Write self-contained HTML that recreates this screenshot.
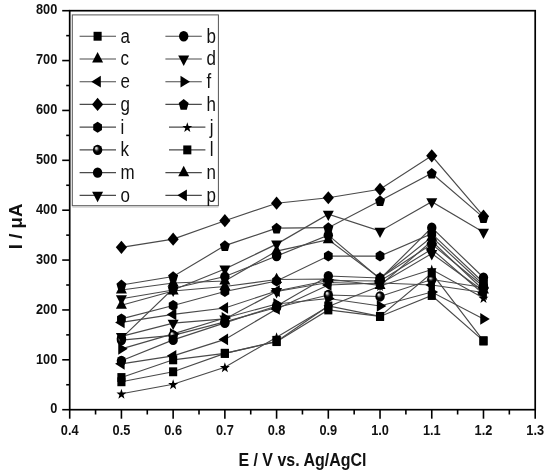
<!DOCTYPE html>
<html><head><meta charset="utf-8"><title>chart</title>
<style>html,body{margin:0;padding:0;background:#fff;}svg{display:block;will-change:transform;}</style></head>
<body>
<svg width="550" height="475" viewBox="0 0 550 475">
<defs><radialGradient id="sp" cx="0.5" cy="0.5" r="0.5" fx="0.33" fy="0.3"><stop offset="0" stop-color="#f0f0f0"/><stop offset="0.18" stop-color="#c4c4c4"/><stop offset="0.42" stop-color="#2a2a2a"/><stop offset="0.6" stop-color="#000"/><stop offset="1" stop-color="#000"/></radialGradient></defs>
<rect width="550" height="475" fill="#fff"/>
<g fill="none" stroke="#4a4a4a" stroke-width="1.15">
<polyline points="121.42,377.53 173.14,359.82 224.87,353.34 276.59,341.62 328.31,309.95 380.03,316.43 431.76,295.49 483.48,340.87"/>
<polyline points="121.42,338.38 173.14,288.50 224.87,276.53 276.59,256.08 328.31,235.14 380.03,279.03 431.76,227.66 483.48,277.53"/>
<polyline points="121.42,290.00 173.14,283.02 224.87,281.02 276.59,251.10 328.31,239.63 380.03,278.28 431.76,237.13 483.48,285.01"/>
<polyline points="121.42,298.73 173.14,290.00 224.87,269.05 276.59,244.12 328.31,214.19 380.03,231.15 431.76,201.72 483.48,232.14"/>
<polyline points="121.42,322.42 173.14,314.44 224.87,307.95 276.59,291.00 328.31,280.52 380.03,281.02 431.76,249.10 483.48,293.99"/>
<polyline points="121.42,348.85 173.14,333.89 224.87,317.93 276.59,303.96 328.31,298.48 380.03,305.96 431.76,292.00 483.48,318.93"/>
<polyline points="121.42,247.36 173.14,239.13 224.87,220.67 276.59,203.22 328.31,197.73 380.03,189.25 431.76,155.84 483.48,216.19"/>
<polyline points="121.42,285.01 173.14,276.53 224.87,245.61 276.59,228.15 328.31,227.66 380.03,200.72 431.76,173.29 483.48,217.68"/>
<polyline points="121.42,318.93 173.14,305.46 224.87,291.50 276.59,281.02 328.31,256.08 380.03,256.08 431.76,233.64 483.48,282.52"/>
<polyline points="121.42,393.74 173.14,384.26 224.87,367.31 276.59,337.13 328.31,306.46 380.03,286.01 431.76,269.55 483.48,297.98"/>
<polyline points="121.42,340.12 173.14,335.39 224.87,321.92 276.59,307.46 328.31,294.99 380.03,296.48 431.76,279.53 483.48,287.51"/>
<polyline points="121.42,381.77 173.14,371.79 224.87,353.34 276.59,341.37 328.31,305.96 380.03,316.43 431.76,273.04 483.48,340.87"/>
<polyline points="121.42,360.82 173.14,339.88 224.87,322.92 276.59,305.96 328.31,276.03 380.03,278.03 431.76,244.12 483.48,286.51"/>
<polyline points="121.42,305.21 173.14,291.00 224.87,286.51 276.59,279.53 328.31,279.03 380.03,285.51 431.76,241.12 483.48,290.00"/>
<polyline points="121.42,336.38 173.14,323.17 224.87,318.93 276.59,291.50 328.31,282.52 380.03,284.01 431.76,253.59 483.48,291.00"/>
<polyline points="121.42,363.81 173.14,355.83 224.87,339.38 276.59,308.95 328.31,285.01 380.03,283.02 431.76,285.01 483.48,292.49"/>
</g>
<g fill="#000">
<rect x="117.37" y="373.08" width="8.10" height="8.90"/>
<rect x="169.09" y="355.38" width="8.10" height="8.90"/>
<rect x="220.82" y="348.89" width="8.10" height="8.90"/>
<rect x="272.54" y="337.17" width="8.10" height="8.90"/>
<rect x="324.26" y="305.50" width="8.10" height="8.90"/>
<rect x="375.98" y="311.98" width="8.10" height="8.90"/>
<rect x="427.71" y="291.04" width="8.10" height="8.90"/>
<rect x="479.43" y="336.42" width="8.10" height="8.90"/>
<ellipse cx="121.42" cy="338.38" rx="4.7" ry="5.15"/>
<ellipse cx="173.14" cy="288.50" rx="4.7" ry="5.15"/>
<ellipse cx="224.87" cy="276.53" rx="4.7" ry="5.15"/>
<ellipse cx="276.59" cy="256.08" rx="4.7" ry="5.15"/>
<ellipse cx="328.31" cy="235.14" rx="4.7" ry="5.15"/>
<ellipse cx="380.03" cy="279.03" rx="4.7" ry="5.15"/>
<ellipse cx="431.76" cy="227.66" rx="4.7" ry="5.15"/>
<ellipse cx="483.48" cy="277.53" rx="4.7" ry="5.15"/>
<polygon points="115.92,293.50 126.92,293.50 121.42,283.10"/>
<polygon points="167.64,286.52 178.64,286.52 173.14,276.12"/>
<polygon points="219.37,284.52 230.37,284.52 224.87,274.12"/>
<polygon points="271.09,254.60 282.09,254.60 276.59,244.20"/>
<polygon points="322.81,243.13 333.81,243.13 328.31,232.73"/>
<polygon points="374.53,281.78 385.53,281.78 380.03,271.38"/>
<polygon points="426.26,240.63 437.26,240.63 431.76,230.23"/>
<polygon points="477.98,288.51 488.98,288.51 483.48,278.11"/>
<polygon points="115.92,295.23 126.92,295.23 121.42,305.63"/>
<polygon points="167.64,286.50 178.64,286.50 173.14,296.90"/>
<polygon points="219.37,265.55 230.37,265.55 224.87,275.95"/>
<polygon points="271.09,240.62 282.09,240.62 276.59,251.02"/>
<polygon points="322.81,210.69 333.81,210.69 328.31,221.09"/>
<polygon points="374.53,227.65 385.53,227.65 380.03,238.05"/>
<polygon points="426.26,198.22 437.26,198.22 431.76,208.62"/>
<polygon points="477.98,228.64 488.98,228.64 483.48,239.04"/>
<polygon points="124.62,316.52 124.62,328.32 115.12,322.42"/>
<polygon points="176.34,308.54 176.34,320.34 166.84,314.44"/>
<polygon points="228.07,302.06 228.07,313.85 218.57,307.95"/>
<polygon points="279.79,285.10 279.79,296.90 270.29,291.00"/>
<polygon points="331.51,274.62 331.51,286.42 322.01,280.52"/>
<polygon points="383.23,275.12 383.23,286.92 373.73,281.02"/>
<polygon points="434.96,243.20 434.96,255.00 425.46,249.10"/>
<polygon points="486.68,288.09 486.68,299.89 477.18,293.99"/>
<polygon points="118.22,342.95 118.22,354.75 127.72,348.85"/>
<polygon points="169.94,327.99 169.94,339.79 179.44,333.89"/>
<polygon points="221.67,312.03 221.67,323.83 231.17,317.93"/>
<polygon points="273.39,298.06 273.39,309.86 282.89,303.96"/>
<polygon points="325.11,292.58 325.11,304.38 334.61,298.48"/>
<polygon points="376.83,300.06 376.83,311.86 386.33,305.96"/>
<polygon points="428.56,286.10 428.56,297.89 438.06,292.00"/>
<polygon points="480.28,313.03 480.28,324.83 489.78,318.93"/>
<polygon points="115.82,247.36 121.42,240.76 127.02,247.36 121.42,253.96"/>
<polygon points="167.54,239.13 173.14,232.53 178.74,239.13 173.14,245.73"/>
<polygon points="219.27,220.67 224.87,214.07 230.47,220.67 224.87,227.27"/>
<polygon points="270.99,203.22 276.59,196.62 282.19,203.22 276.59,209.82"/>
<polygon points="322.71,197.73 328.31,191.13 333.91,197.73 328.31,204.33"/>
<polygon points="374.43,189.25 380.03,182.65 385.63,189.25 380.03,195.85"/>
<polygon points="426.16,155.84 431.76,149.24 437.36,155.84 431.76,162.44"/>
<polygon points="477.88,216.19 483.48,209.59 489.08,216.19 483.48,222.78"/>
<polygon points="121.42,279.61 126.42,283.69 124.51,290.29 118.34,290.29 116.43,283.69"/>
<polygon points="173.14,271.13 178.14,275.21 176.23,281.81 170.06,281.81 168.15,275.21"/>
<polygon points="224.87,240.21 229.86,244.29 227.95,250.88 221.78,250.88 219.87,244.29"/>
<polygon points="276.59,222.75 281.58,226.83 279.68,233.43 273.50,233.43 271.59,226.83"/>
<polygon points="328.31,222.26 333.31,226.33 331.40,232.93 325.22,232.93 323.32,226.33"/>
<polygon points="380.03,195.32 385.03,199.40 383.12,206.00 376.95,206.00 375.04,199.40"/>
<polygon points="431.76,167.89 436.75,171.97 434.84,178.57 428.67,178.57 426.76,171.97"/>
<polygon points="483.48,212.28 488.47,216.36 486.56,222.95 480.39,222.95 478.48,216.36"/>
<polygon points="121.42,313.43 125.80,316.18 125.80,321.68 121.42,324.43 117.04,321.68 117.04,316.18"/>
<polygon points="173.14,299.96 177.53,302.71 177.53,308.21 173.14,310.96 168.76,308.21 168.76,302.71"/>
<polygon points="224.87,286.00 229.25,288.75 229.25,294.25 224.87,297.00 220.48,294.25 220.48,288.75"/>
<polygon points="276.59,275.52 280.97,278.27 280.97,283.77 276.59,286.52 272.21,283.77 272.21,278.27"/>
<polygon points="328.31,250.58 332.69,253.33 332.69,258.83 328.31,261.58 323.93,258.83 323.93,253.33"/>
<polygon points="380.03,250.58 384.42,253.33 384.42,258.83 380.03,261.58 375.65,258.83 375.65,253.33"/>
<polygon points="431.76,228.14 436.14,230.89 436.14,236.39 431.76,239.14 427.37,236.39 427.37,230.89"/>
<polygon points="483.48,277.02 487.86,279.77 487.86,285.27 483.48,288.02 479.10,285.27 479.10,279.77"/>
<polygon points="121.42,388.74 122.65,392.46 126.39,392.54 123.41,394.92 124.49,398.69 121.42,396.44 118.35,398.69 119.43,394.92 116.45,392.54 120.19,392.46"/>
<polygon points="173.14,379.26 174.37,382.98 178.11,383.06 175.13,385.44 176.22,389.21 173.14,386.96 170.07,389.21 171.16,385.44 168.18,383.06 171.92,382.98"/>
<polygon points="224.87,362.31 226.10,366.03 229.84,366.11 226.85,368.49 227.94,372.26 224.87,370.01 221.80,372.26 222.88,368.49 219.90,366.11 223.64,366.03"/>
<polygon points="276.59,332.13 277.82,335.85 281.56,335.93 278.58,338.31 279.66,342.08 276.59,339.83 273.52,342.08 274.60,338.31 271.62,335.93 275.36,335.85"/>
<polygon points="328.31,301.46 329.54,305.18 333.28,305.26 330.30,307.64 331.38,311.41 328.31,309.16 325.24,311.41 326.32,307.64 323.34,305.26 327.08,305.18"/>
<polygon points="380.03,281.01 381.26,284.73 385.00,284.81 382.02,287.19 383.10,290.96 380.03,288.71 376.96,290.96 378.05,287.19 375.06,284.81 378.80,284.73"/>
<polygon points="431.76,264.55 432.98,268.27 436.72,268.35 433.74,270.73 434.83,274.50 431.76,272.25 428.68,274.50 429.77,270.73 426.79,268.35 430.53,268.27"/>
<polygon points="483.48,292.98 484.71,296.70 488.45,296.78 485.47,299.16 486.55,302.93 483.48,300.68 480.41,302.93 481.49,299.16 478.51,296.78 482.25,296.70"/>
<ellipse cx="121.42" cy="340.12" rx="4.7" ry="5.15" fill="url(#sp)"/>
<ellipse cx="173.14" cy="335.39" rx="4.7" ry="5.15" fill="url(#sp)"/>
<ellipse cx="224.87" cy="321.92" rx="4.7" ry="5.15" fill="url(#sp)"/>
<ellipse cx="276.59" cy="307.46" rx="4.7" ry="5.15" fill="url(#sp)"/>
<ellipse cx="328.31" cy="294.99" rx="4.7" ry="5.15" fill="url(#sp)"/>
<ellipse cx="380.03" cy="296.48" rx="4.7" ry="5.15" fill="url(#sp)"/>
<ellipse cx="431.76" cy="279.53" rx="4.7" ry="5.15" fill="url(#sp)"/>
<ellipse cx="483.48" cy="287.51" rx="4.7" ry="5.15" fill="url(#sp)"/>
<rect x="117.37" y="377.32" width="8.10" height="8.90"/>
<rect x="169.09" y="367.34" width="8.10" height="8.90"/>
<rect x="220.82" y="348.89" width="8.10" height="8.90"/>
<rect x="272.54" y="336.92" width="8.10" height="8.90"/>
<rect x="324.26" y="301.51" width="8.10" height="8.90"/>
<rect x="375.98" y="311.98" width="8.10" height="8.90"/>
<rect x="427.71" y="268.59" width="8.10" height="8.90"/>
<rect x="479.43" y="336.42" width="8.10" height="8.90"/>
<ellipse cx="121.42" cy="360.82" rx="4.7" ry="5.15"/>
<ellipse cx="173.14" cy="339.88" rx="4.7" ry="5.15"/>
<ellipse cx="224.87" cy="322.92" rx="4.7" ry="5.15"/>
<ellipse cx="276.59" cy="305.96" rx="4.7" ry="5.15"/>
<ellipse cx="328.31" cy="276.03" rx="4.7" ry="5.15"/>
<ellipse cx="380.03" cy="278.03" rx="4.7" ry="5.15"/>
<ellipse cx="431.76" cy="244.12" rx="4.7" ry="5.15"/>
<ellipse cx="483.48" cy="286.51" rx="4.7" ry="5.15"/>
<polygon points="115.92,308.71 126.92,308.71 121.42,298.31"/>
<polygon points="167.64,294.50 178.64,294.50 173.14,284.10"/>
<polygon points="219.37,290.01 230.37,290.01 224.87,279.61"/>
<polygon points="271.09,283.03 282.09,283.03 276.59,272.63"/>
<polygon points="322.81,282.53 333.81,282.53 328.31,272.13"/>
<polygon points="374.53,289.01 385.53,289.01 380.03,278.61"/>
<polygon points="426.26,244.62 437.26,244.62 431.76,234.22"/>
<polygon points="477.98,293.50 488.98,293.50 483.48,283.10"/>
<polygon points="115.92,332.88 126.92,332.88 121.42,343.28"/>
<polygon points="167.64,319.67 178.64,319.67 173.14,330.07"/>
<polygon points="219.37,315.43 230.37,315.43 224.87,325.83"/>
<polygon points="271.09,288.00 282.09,288.00 276.59,298.40"/>
<polygon points="322.81,279.02 333.81,279.02 328.31,289.42"/>
<polygon points="374.53,280.51 385.53,280.51 380.03,290.91"/>
<polygon points="426.26,250.09 437.26,250.09 431.76,260.49"/>
<polygon points="477.98,287.50 488.98,287.50 483.48,297.90"/>
<polygon points="124.62,357.92 124.62,369.71 115.12,363.81"/>
<polygon points="176.34,349.94 176.34,361.73 166.84,355.83"/>
<polygon points="228.07,333.48 228.07,345.28 218.57,339.38"/>
<polygon points="279.79,303.05 279.79,314.85 270.29,308.95"/>
<polygon points="331.51,279.11 331.51,290.91 322.01,285.01"/>
<polygon points="383.23,277.12 383.23,288.92 373.73,283.02"/>
<polygon points="434.96,279.11 434.96,290.91 425.46,285.01"/>
<polygon points="486.68,286.59 486.68,298.39 477.18,292.49"/>
</g>
<rect x="69.70" y="10.70" width="465.50" height="399.00" fill="none" stroke="#000" stroke-width="1.7"/>
<g stroke="#000" stroke-width="1.6">
<line x1="69.70" y1="409.70" x2="69.70" y2="418.70"/>
<line x1="95.56" y1="409.70" x2="95.56" y2="414.50"/>
<line x1="121.42" y1="409.70" x2="121.42" y2="418.70"/>
<line x1="147.28" y1="409.70" x2="147.28" y2="414.50"/>
<line x1="173.14" y1="409.70" x2="173.14" y2="418.70"/>
<line x1="199.01" y1="409.70" x2="199.01" y2="414.50"/>
<line x1="224.87" y1="409.70" x2="224.87" y2="418.70"/>
<line x1="250.73" y1="409.70" x2="250.73" y2="414.50"/>
<line x1="276.59" y1="409.70" x2="276.59" y2="418.70"/>
<line x1="302.45" y1="409.70" x2="302.45" y2="414.50"/>
<line x1="328.31" y1="409.70" x2="328.31" y2="418.70"/>
<line x1="354.17" y1="409.70" x2="354.17" y2="414.50"/>
<line x1="380.03" y1="409.70" x2="380.03" y2="418.70"/>
<line x1="405.89" y1="409.70" x2="405.89" y2="414.50"/>
<line x1="431.76" y1="409.70" x2="431.76" y2="418.70"/>
<line x1="457.62" y1="409.70" x2="457.62" y2="414.50"/>
<line x1="483.48" y1="409.70" x2="483.48" y2="418.70"/>
<line x1="509.34" y1="409.70" x2="509.34" y2="414.50"/>
<line x1="535.20" y1="409.70" x2="535.20" y2="418.70"/>
<line x1="69.70" y1="409.70" x2="62.20" y2="409.70"/>
<line x1="69.70" y1="384.76" x2="66.20" y2="384.76"/>
<line x1="69.70" y1="359.82" x2="62.20" y2="359.82"/>
<line x1="69.70" y1="334.89" x2="66.20" y2="334.89"/>
<line x1="69.70" y1="309.95" x2="62.20" y2="309.95"/>
<line x1="69.70" y1="285.01" x2="66.20" y2="285.01"/>
<line x1="69.70" y1="260.07" x2="62.20" y2="260.07"/>
<line x1="69.70" y1="235.14" x2="66.20" y2="235.14"/>
<line x1="69.70" y1="210.20" x2="62.20" y2="210.20"/>
<line x1="69.70" y1="185.26" x2="66.20" y2="185.26"/>
<line x1="69.70" y1="160.32" x2="62.20" y2="160.32"/>
<line x1="69.70" y1="135.39" x2="66.20" y2="135.39"/>
<line x1="69.70" y1="110.45" x2="62.20" y2="110.45"/>
<line x1="69.70" y1="85.51" x2="66.20" y2="85.51"/>
<line x1="69.70" y1="60.57" x2="62.20" y2="60.57"/>
<line x1="69.70" y1="35.64" x2="66.20" y2="35.64"/>
<line x1="69.70" y1="10.70" x2="62.20" y2="10.70"/>
</g>
<g font-family="Liberation Sans, sans-serif" font-weight="bold" font-size="14.2" fill="#111">
<text transform="translate(69.70,434.6) scale(0.9,1)" text-anchor="middle">0.4</text>
<text transform="translate(121.42,434.6) scale(0.9,1)" text-anchor="middle">0.5</text>
<text transform="translate(173.14,434.6) scale(0.9,1)" text-anchor="middle">0.6</text>
<text transform="translate(224.87,434.6) scale(0.9,1)" text-anchor="middle">0.7</text>
<text transform="translate(276.59,434.6) scale(0.9,1)" text-anchor="middle">0.8</text>
<text transform="translate(328.31,434.6) scale(0.9,1)" text-anchor="middle">0.9</text>
<text transform="translate(380.03,434.6) scale(0.9,1)" text-anchor="middle">1.0</text>
<text transform="translate(431.76,434.6) scale(0.9,1)" text-anchor="middle">1.1</text>
<text transform="translate(483.48,434.6) scale(0.9,1)" text-anchor="middle">1.2</text>
<text transform="translate(535.20,434.6) scale(0.9,1)" text-anchor="middle">1.3</text>
<text transform="translate(57.3,413.40) scale(0.9,1)" text-anchor="end">0</text>
<text transform="translate(57.3,363.52) scale(0.9,1)" text-anchor="end">100</text>
<text transform="translate(57.3,313.65) scale(0.9,1)" text-anchor="end">200</text>
<text transform="translate(57.3,263.77) scale(0.9,1)" text-anchor="end">300</text>
<text transform="translate(57.3,213.90) scale(0.9,1)" text-anchor="end">400</text>
<text transform="translate(57.3,164.02) scale(0.9,1)" text-anchor="end">500</text>
<text transform="translate(57.3,114.15) scale(0.9,1)" text-anchor="end">600</text>
<text transform="translate(57.3,64.27) scale(0.9,1)" text-anchor="end">700</text>
<text transform="translate(57.3,14.40) scale(0.9,1)" text-anchor="end">800</text>
</g>
<text x="302.4" y="465.8" text-anchor="middle" font-family="Liberation Sans, sans-serif" font-weight="bold" font-size="18.4" fill="#111" textLength="128" lengthAdjust="spacingAndGlyphs">E / V vs. Ag/AgCl</text>
<text transform="translate(22.2,226.4) rotate(-90)" text-anchor="middle" font-family="Liberation Sans, sans-serif" font-weight="bold" font-size="17.6" fill="#111" textLength="45.6" lengthAdjust="spacingAndGlyphs">I / μA</text>
<rect x="72.3" y="14.9" width="146.1" height="190.8" fill="#fff" stroke="#555" stroke-width="1"/>
<line x1="72.3" y1="207" x2="218.4" y2="207" stroke="#bbb" stroke-width="1"/>
<line x1="79.60" y1="36.25" x2="116.00" y2="36.25" stroke="#4a4a4a" stroke-width="1.15"/>
<g fill="#000"><rect x="93.55" y="31.80" width="8.10" height="8.90"/></g>
<text transform="translate(120.60,42.75) scale(0.87,1)" font-family="Liberation Sans, sans-serif" font-size="19.5" fill="#111">a</text>
<line x1="165.40" y1="36.25" x2="201.80" y2="36.25" stroke="#4a4a4a" stroke-width="1.15"/>
<g fill="#000"><ellipse cx="183.70" cy="36.25" rx="4.7" ry="5.15"/></g>
<text transform="translate(206.40,42.75) scale(0.87,1)" font-family="Liberation Sans, sans-serif" font-size="19.5" fill="#111">b</text>
<line x1="79.60" y1="58.98" x2="116.00" y2="58.98" stroke="#4a4a4a" stroke-width="1.15"/>
<g fill="#000"><polygon points="92.10,62.48 103.10,62.48 97.60,52.08"/></g>
<text transform="translate(120.60,65.48) scale(0.87,1)" font-family="Liberation Sans, sans-serif" font-size="19.5" fill="#111">c</text>
<line x1="165.40" y1="58.98" x2="201.80" y2="58.98" stroke="#4a4a4a" stroke-width="1.15"/>
<g fill="#000"><polygon points="178.20,55.48 189.20,55.48 183.70,65.88"/></g>
<text transform="translate(206.40,65.48) scale(0.87,1)" font-family="Liberation Sans, sans-serif" font-size="19.5" fill="#111">d</text>
<line x1="79.60" y1="81.71" x2="116.00" y2="81.71" stroke="#4a4a4a" stroke-width="1.15"/>
<g fill="#000"><polygon points="100.80,75.81 100.80,87.61 91.30,81.71"/></g>
<text transform="translate(120.60,88.21) scale(0.87,1)" font-family="Liberation Sans, sans-serif" font-size="19.5" fill="#111">e</text>
<line x1="165.40" y1="81.71" x2="201.80" y2="81.71" stroke="#4a4a4a" stroke-width="1.15"/>
<g fill="#000"><polygon points="180.50,75.81 180.50,87.61 190.00,81.71"/></g>
<text transform="translate(206.40,88.21) scale(0.87,1)" font-family="Liberation Sans, sans-serif" font-size="19.5" fill="#111">f</text>
<line x1="79.60" y1="104.44" x2="116.00" y2="104.44" stroke="#4a4a4a" stroke-width="1.15"/>
<g fill="#000"><polygon points="92.00,104.44 97.60,97.84 103.20,104.44 97.60,111.04"/></g>
<text transform="translate(120.60,110.94) scale(0.87,1)" font-family="Liberation Sans, sans-serif" font-size="19.5" fill="#111">g</text>
<line x1="165.40" y1="104.44" x2="201.80" y2="104.44" stroke="#4a4a4a" stroke-width="1.15"/>
<g fill="#000"><polygon points="183.70,99.04 188.69,103.12 186.79,109.71 180.61,109.71 178.71,103.12"/></g>
<text transform="translate(206.40,110.94) scale(0.87,1)" font-family="Liberation Sans, sans-serif" font-size="19.5" fill="#111">h</text>
<line x1="79.60" y1="127.17" x2="116.00" y2="127.17" stroke="#4a4a4a" stroke-width="1.15"/>
<g fill="#000"><polygon points="97.60,121.67 101.98,124.42 101.98,129.92 97.60,132.67 93.22,129.92 93.22,124.42"/></g>
<text transform="translate(120.60,133.67) scale(0.87,1)" font-family="Liberation Sans, sans-serif" font-size="19.5" fill="#111">i</text>
<line x1="169.00" y1="127.17" x2="205.40" y2="127.17" stroke="#4a4a4a" stroke-width="1.15"/>
<g fill="#000"><polygon points="187.30,122.17 188.53,125.89 192.27,125.97 189.29,128.35 190.37,132.12 187.30,129.87 184.23,132.12 185.31,128.35 182.33,125.97 186.07,125.89"/></g>
<text transform="translate(209.80,133.67) scale(0.87,1)" font-family="Liberation Sans, sans-serif" font-size="19.5" fill="#111">j</text>
<line x1="79.60" y1="149.90" x2="116.00" y2="149.90" stroke="#4a4a4a" stroke-width="1.15"/>
<g fill="#000"><ellipse cx="97.60" cy="149.90" rx="4.7" ry="5.15" fill="url(#sp)"/></g>
<text transform="translate(120.60,156.40) scale(0.87,1)" font-family="Liberation Sans, sans-serif" font-size="19.5" fill="#111">k</text>
<line x1="169.00" y1="149.90" x2="205.40" y2="149.90" stroke="#4a4a4a" stroke-width="1.15"/>
<g fill="#000"><rect x="183.25" y="145.45" width="8.10" height="8.90"/></g>
<text transform="translate(209.80,156.40) scale(0.87,1)" font-family="Liberation Sans, sans-serif" font-size="19.5" fill="#111">l</text>
<line x1="79.60" y1="172.63" x2="116.00" y2="172.63" stroke="#4a4a4a" stroke-width="1.15"/>
<g fill="#000"><ellipse cx="97.60" cy="172.63" rx="4.7" ry="5.15"/></g>
<text transform="translate(120.60,179.13) scale(0.87,1)" font-family="Liberation Sans, sans-serif" font-size="19.5" fill="#111">m</text>
<line x1="165.40" y1="172.63" x2="201.80" y2="172.63" stroke="#4a4a4a" stroke-width="1.15"/>
<g fill="#000"><polygon points="178.20,176.13 189.20,176.13 183.70,165.73"/></g>
<text transform="translate(206.40,179.13) scale(0.87,1)" font-family="Liberation Sans, sans-serif" font-size="19.5" fill="#111">n</text>
<line x1="79.60" y1="195.36" x2="116.00" y2="195.36" stroke="#4a4a4a" stroke-width="1.15"/>
<g fill="#000"><polygon points="92.10,191.86 103.10,191.86 97.60,202.26"/></g>
<text transform="translate(120.60,201.86) scale(0.87,1)" font-family="Liberation Sans, sans-serif" font-size="19.5" fill="#111">o</text>
<line x1="165.40" y1="195.36" x2="201.80" y2="195.36" stroke="#4a4a4a" stroke-width="1.15"/>
<g fill="#000"><polygon points="186.90,189.46 186.90,201.26 177.40,195.36"/></g>
<text transform="translate(206.40,201.86) scale(0.87,1)" font-family="Liberation Sans, sans-serif" font-size="19.5" fill="#111">p</text>
</svg>
</body></html>
